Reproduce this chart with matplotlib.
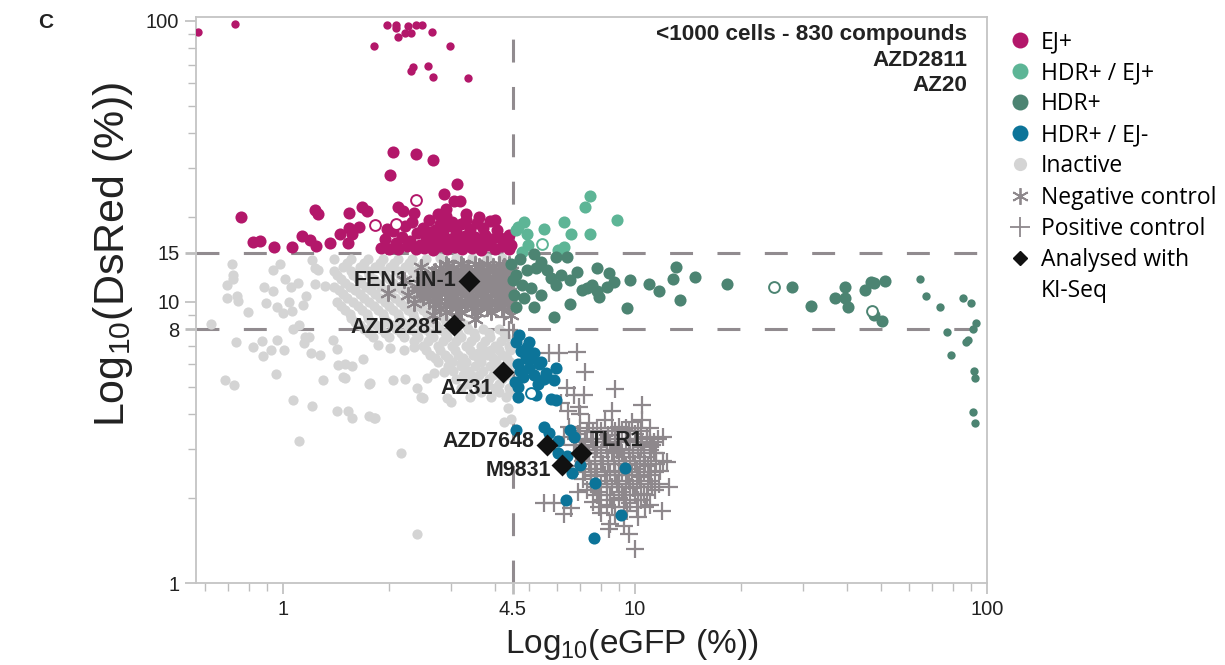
import numpy as np
import matplotlib.pyplot as plt
from matplotlib.lines import Line2D

plt.rcParams['font.family'] = ['Liberation Sans', 'DejaVu Sans']
plt.rcParams['mathtext.default'] = 'regular'

# ---- data: (eGFP %, DsRed %) ----
ej_plus_small = [(0.575, 91.4), (0.73, 97.5), (1.97, 97), (2.09, 97), (2.10, 94.4), (2.26, 96),
                 (2.38, 97), (2.48, 97), (2.12, 87.7), (2.22, 90.6), (2.31, 90.6), (2.65, 91.4),
                 (1.81, 81.4), (2.98, 81.4), (2.31, 66.3), (2.34, 68.5), (2.58, 69.1), (2.66, 63.1),
                 (3.36, 62.6)]
ej_plus = [(2.06, 34.1), (2.38, 33.5), (2.66, 32.1), (2.01, 28.4), (3.12, 26.4), (2.86, 24.3),
           (3.06, 22.8), (3.18, 22.8), (0.76, 20.1), (1.23, 21.3), (1.26, 20.5), (1.54, 20.8),
           (1.68, 21.8), (1.73, 21.0), (2.12, 21.8), (2.19, 21.1), (2.90, 21.5),
           (0.82, 16.4), (0.86, 16.5), (0.94, 15.7), (1.06, 15.7), (1.13, 17.2), (1.19, 16.6),
           (1.24, 15.8), (1.36, 16.2), (1.45, 17.5), (1.54, 18.4), (1.57, 17.5), (1.64, 18.5),
           (1.53, 16.2), (4.40, 17.3), (4.45, 16.0),
           (1.90, 15.6), (1.95, 16.8), (2.00, 15.4), (2.05, 17.9), (2.10, 16.2), (2.12, 15.5),
           (2.18, 17.0), (2.22, 18.6), (2.25, 15.8), (2.30, 16.5), (2.33, 19.2), (2.38, 15.4),
           (2.40, 17.6), (2.45, 16.0), (2.50, 18.3), (2.52, 15.6), (2.55, 17.1), (2.60, 19.5),
           (2.62, 16.4), (2.66, 15.3), (2.70, 18.0), (2.72, 16.9), (2.78, 15.8), (2.80, 19.0),
           (2.85, 17.4), (2.88, 16.1), (2.92, 15.5), (2.95, 18.6), (3.00, 16.8), (3.03, 19.3),
           (3.08, 15.7), (3.10, 17.7), (3.15, 16.3), (3.20, 18.9), (3.22, 15.4), (3.28, 17.2),
           (3.32, 19.6), (3.35, 16.0), (3.40, 18.2), (3.45, 15.6), (3.50, 17.0), (3.55, 19.1),
           (3.60, 16.5), (3.65, 15.3), (3.70, 18.4), (3.75, 17.3), (3.82, 15.9), (3.88, 19.4),
           (3.92, 16.7), (4.00, 15.5), (4.05, 18.0), (4.10, 17.0), (4.20, 15.8), (4.30, 16.6),
           (4.40, 15.4), (2.60, 17.8), (2.90, 20.2), (3.30, 20.5), (3.60, 20.0), (2.75, 20.5),
           (4.00, 19.6), (1.98, 18.2), (2.35, 20.8)]
ej_plus_open = [(2.38, 23.1), (1.82, 18.8), (2.09, 19.0)]

hdr_ej_plus = [(7.44, 23.9), (7.2, 21.8), (8.89, 19.5), (6.27, 19.3), (5.53, 18.2), (6.56, 17.4),
               (7.44, 17.4), (4.66, 18.5), (4.85, 19.2), (4.95, 17.5), (6.27, 15.7), (4.98, 15.9),
               (4.76, 15.1), (6.06, 15.3), (4.6, 18.0)]
hdr_ej_plus_open = [(5.46, 16.1)]

hdr_plus = [(10.96, 11.6), (11.7, 10.9), (12.8, 12.1), (13.1, 13.3), (13.4, 10.2), (14.8, 12.3),
            (18.2, 11.6), (27.9, 11.3), (31.6, 9.68), (37.0, 10.3), (39.5, 11.3), (39.5, 10.3),
            (40.3, 9.6), (45.1, 11.0), (46.7, 11.8), (47.9, 11.7), (51.2, 11.9), (47.9, 9.0),
            (50.4, 8.55),
            (5.18, 14.8), (5.98, 14.5), (6.39, 14.5), (4.45, 13.6), (4.6, 12.5), (4.76, 11.5),
            (4.54, 10.6), (4.92, 13.0), (5.25, 13.2), (5.61, 13.0), (5.79, 12.2), (6.18, 12.5),
            (6.52, 12.0), (6.83, 12.8), (5.98, 11.5), (7.06, 11.0), (7.53, 11.5), (7.78, 10.9),
            (8.32, 11.3), (8.71, 11.8), (9.68, 12.0), (4.85, 10.3), (4.6, 9.6), (5.18, 9.6),
            (5.88, 8.84), (6.52, 9.84), (9.49, 9.52), (7.89, 10.4), (7.29, 11.2), (8.43, 12.7),
            (7.78, 13.2), (5.42, 13.9), (5.05, 11.2), (5.42, 10.6), (4.5, 12.0), (4.7, 14.2)]
hdr_plus_small = [(64.4, 12.1), (66.9, 10.5), (73.5, 9.6), (85.4, 10.3), (90.0, 9.9), (93.0, 8.41),
                  (91.2, 8.0), (76.9, 7.8), (88.3, 7.32), (87.0, 7.2), (78.9, 6.47), (91.8, 5.67),
                  (92.4, 5.35), (91.2, 4.05), (92.4, 3.7)]
hdr_plus_open = [(24.9, 11.3), (47.2, 9.29)]

hdr_ej_minus = [(4.69, 7.62), (5.01, 7.2), (5.18, 6.58), (5.42, 6.11), (5.98, 5.81), (5.88, 5.27),
                (4.66, 4.97), (5.25, 4.65), (4.66, 4.58), (5.79, 4.5), (5.98, 4.47), (4.6, 3.49),
                (5.5, 3.58), (5.71, 3.43), (6.52, 3.49), (6.69, 3.3), (6.03, 3.21), (6.06, 2.89),
                (6.39, 2.84), (6.96, 2.62), (6.61, 2.47), (9.36, 2.57), (7.69, 2.26), (6.35, 1.98),
                (9.12, 1.75), (7.64, 1.45),
                (4.6, 7.2), (4.75, 6.7), (4.9, 6.3), (4.65, 6.0), (5.0, 5.8), (5.15, 5.5), (4.8, 5.4),
                (4.55, 5.2), (5.3, 5.1), (5.6, 5.6), (4.95, 6.9), (5.35, 6.0), (4.7, 5.7), (5.1, 6.3),
                (5.5, 5.3)]
hdr_ej_minus_open = [(5.05, 4.73)]

inactive = [(0.715, 13.7), (0.72, 12.5), (0.72, 12.1), (0.692, 11.5), (0.692, 10.3), (0.739, 10.5),
            (0.743, 10.1), (0.794, 9.21), (0.623, 8.35), (0.734, 7.2), (0.821, 6.9), (0.877, 6.42),
            (0.871, 7.26), (0.924, 6.74), (0.961, 7.3), (1.007, 6.74), (0.955, 5.53), (0.683, 5.27),
            (0.724, 5.05), (0.882, 11.3), (0.936, 10.9), (0.894, 9.91), (0.961, 9.6), (0.936, 13.0),
            (0.98, 13.7), (1.013, 12.1), (1.04, 10.0), (1.0, 9.14), (1.06, 9.29), (1.054, 11.3),
            (1.1, 11.7), (1.16, 10.5), (1.14, 9.75), (1.07, 8.0), (1.11, 8.28), (1.155, 7.5),
            (1.186, 7.5), (1.148, 7.14), (1.2, 6.58), (1.275, 6.47), (1.3, 5.27), (1.07, 4.47),
            (1.21, 4.25), (1.42, 4.08), (1.53, 4.1), (1.57, 3.88), (1.76, 3.92), (1.82, 3.85),
            (1.11, 3.21), (1.5, 5.35), (1.76, 5.1), (1.43, 5.96), (1.5, 6.0), (1.57, 5.92),
            (1.42, 6.79), (1.69, 6.26), (1.39, 7.3), (1.23, 11.6), (1.23, 13.2), (1.32, 11.4),
            (2.4, 1.5), (2.17, 2.89), (1.21, 14.1), (1.26, 13.0),
            (1.86, 7.02), (2.02, 6.85), (2.2, 6.74), (2.35, 6.9), (2.06, 5.27), (2.41, 4.93),
            (2.5, 4.54), (3.0, 4.39), (1.81, 3.88), (4.37, 4.18), (4.45, 3.82), (4.25, 3.73),
            (2.86, 5.62), (2.68, 5.58), (3.2, 6.06), (3.42, 5.49), (3.83, 5.05), (3.58, 6.58),
            (3.9, 6.74), (2.93, 4.57), (2.46, 4.58), (1.77, 5.13), (1.48, 5.4), (2.22, 5.33),
            (2.56, 5.36),
            # dense core
            (1.40, 14.2), (1.56, 14.2), (1.74, 14.2), (1.92, 14.2), (2.12, 14.2), (2.32, 14.2), (2.55, 14.2),
            (2.8, 14.3), (3.1, 14.3), (3.45, 14.3), (3.8, 14.3), (4.2, 14.3),
            (1.52, 13.75), (1.7, 13.75), (1.88, 13.75), (2.07, 13.75), (2.28, 13.75), (2.5, 13.75),
            (1.48, 13.3), (1.65, 13.3), (1.83, 13.3), (2.02, 13.3), (2.22, 13.3), (2.44, 13.3),
            (1.4, 12.9), (1.56, 12.9), (1.74, 12.9), (1.92, 12.9), (2.12, 12.9), (2.33, 12.9), (2.56, 12.9),
            (1.42, 12.5), (1.58, 12.5), (1.76, 12.5), (1.95, 12.5), (2.15, 12.5), (2.37, 12.5), (2.6, 12.5),
            (1.46, 12.1), (1.63, 12.1), (1.81, 12.1), (2.0, 12.1), (2.2, 12.1), (2.42, 12.1),
            (1.50, 11.7), (1.67, 11.7), (1.85, 11.7), (2.05, 11.7), (2.26, 11.7), (2.48, 11.7),
            (1.4, 11.35), (1.55, 11.35), (1.72, 11.35), (1.9, 11.35), (2.1, 11.35), (2.32, 11.35), (2.55, 11.35),
            (1.44, 11.0), (1.60, 11.0), (1.78, 11.0), (1.97, 11.0), (2.18, 11.0), (2.40, 11.0), (2.62, 11.0),
            (1.48, 10.65), (1.65, 10.65), (1.83, 10.65), (2.02, 10.65), (2.23, 10.65), (2.46, 10.65),
            (1.52, 10.3), (1.70, 10.3), (1.88, 10.3), (2.08, 10.3), (2.29, 10.3), (2.52, 10.3),
            (1.42, 10.0), (1.58, 10.0), (1.76, 10.0), (1.95, 10.0), (2.15, 10.0), (2.37, 10.0), (2.6, 10.0),
            (1.46, 9.7), (1.63, 9.7), (1.81, 9.7), (2.0, 9.7), (2.21, 9.7), (2.43, 9.7), (2.66, 9.7),
            (1.5, 9.4), (1.68, 9.4), (1.86, 9.4), (2.06, 9.4), (2.27, 9.4), (2.5, 9.4),
            (1.55, 9.1), (1.73, 9.1), (1.92, 9.1), (2.12, 9.1), (2.34, 9.1), (2.57, 9.1), (2.82, 9.1),
            (1.56, 8.8), (1.74, 8.8), (1.94, 8.8), (2.14, 8.8), (2.36, 8.8), (2.6, 8.8), (2.86, 8.8),
            (1.6, 8.5), (1.78, 8.5), (1.98, 8.5), (2.18, 8.5), (2.4, 8.5), (2.63, 8.5), (2.9, 8.5), (3.2, 8.5),
            (1.65, 8.25), (1.84, 8.25), (2.04, 8.25), (2.25, 8.25), (2.47, 8.25), (2.72, 8.25), (3.0, 8.25),
            (3.3, 8.25),
            (1.7, 8.0), (1.9, 8.0), (2.1, 8.0), (2.3, 8.0), (2.53, 8.0), (2.77, 8.0), (3.05, 8.0),
            (3.35, 8.0), (3.7, 8.0), (4.1, 8.0),
            (1.75, 7.75), (1.95, 7.75), (2.16, 7.75), (2.38, 7.75), (2.62, 7.75), (2.88, 7.75), (3.15, 7.75),
            (3.48, 7.75), (3.85, 7.75), (4.25, 7.75),
            (1.8, 7.5), (2.0, 7.5), (2.2, 7.5), (2.42, 7.5), (2.66, 7.5), (2.92, 7.5), (3.2, 7.5),
            (3.52, 7.5), (3.88, 7.5), (4.3, 7.5),
            (2.35, 7.25), (2.58, 7.25), (2.84, 7.25), (3.1, 7.25), (3.42, 7.25), (3.76, 7.25), (4.15, 7.25),
            (2.5, 7.0), (2.75, 7.0), (3.02, 7.0), (3.32, 7.0), (3.65, 7.0), (4.0, 7.0), (4.4, 7.0),
            (2.55, 6.75), (2.8, 6.75), (3.08, 6.75), (3.4, 6.75), (3.72, 6.75), (4.1, 6.75), (4.42, 6.75),
            (2.62, 6.5), (2.88, 6.5), (3.15, 6.5), (3.47, 6.5), (3.8, 6.5), (4.18, 6.5),
            (2.7, 6.3), (2.95, 6.3), (3.25, 6.3), (3.58, 6.3), (3.95, 6.3), (4.32, 6.3),
            (2.75, 6.1), (3.02, 6.1), (3.32, 6.1), (3.65, 6.1), (4.02, 6.1), (4.42, 6.1),
            (2.95, 5.9), (3.2, 5.9), (3.52, 5.9), (3.88, 5.9), (4.25, 5.9),
            (3.05, 5.7), (3.35, 5.7), (3.7, 5.7), (4.05, 5.7), (4.4, 5.7),
            (3.25, 5.5), (3.6, 5.5), (3.95, 5.5), (4.32, 5.5),
            (3.1, 5.3), (3.5, 5.3), (3.85, 5.3), (4.2, 5.3),
            (3.35, 5.1), (3.75, 5.1), (4.12, 5.1),
            (3.2, 4.95), (3.6, 4.95), (4.0, 4.95), (4.38, 4.95),
            (3.65, 4.8), (4.1, 4.8), (4.42, 4.8),
            (3.4, 4.6), (3.9, 4.6), (4.3, 4.6)]

negative_ctrl = [(2.9, 13.6), (3.2, 13.6), (3.5, 13.6), (3.8, 13.6), (4.1, 13.6), (4.4, 13.6),
                 (2.95, 13.4), (3.25, 13.4), (3.6, 13.4), (3.95, 13.4), (4.25, 13.4),
                 (2.8, 13.25), (3.05, 13.25), (3.35, 13.25), (3.65, 13.25), (3.95, 13.25), (4.3, 13.25),
                 (2.7, 12.9), (2.95, 12.9), (3.25, 12.9), (3.55, 12.9), (3.85, 12.9), (4.15, 12.9), (4.45, 12.9),
                 (2.8, 12.7), (3.1, 12.7), (3.4, 12.7), (3.7, 12.7), (4.0, 12.7), (4.3, 12.7),
                 (2.65, 12.55), (2.9, 12.55), (3.2, 12.55), (3.5, 12.55), (3.8, 12.55), (4.1, 12.55), (4.4, 12.55),
                 (2.55, 12.2), (2.8, 12.2), (3.1, 12.2), (3.4, 12.2), (3.7, 12.2), (4.0, 12.2), (4.3, 12.2),
                 (2.65, 12.05), (2.95, 12.05), (3.25, 12.05), (3.55, 12.05), (3.85, 12.05), (4.15, 12.05),
                 (2.5, 11.9), (2.75, 11.9), (3.05, 11.9), (3.35, 11.9), (3.65, 11.9), (3.95, 11.9), (4.3, 11.9),
                 (2.45, 11.6), (2.7, 11.6), (2.98, 11.6), (3.28, 11.6), (3.6, 11.6), (3.92, 11.6), (4.25, 11.6),
                 (2.55, 11.45), (2.8, 11.45), (3.1, 11.45), (3.4, 11.45), (3.7, 11.45), (4.0, 11.45), (4.3, 11.45),
                 (2.4, 11.3), (2.6, 11.3), (2.85, 11.3), (3.15, 11.3), (3.45, 11.3), (3.75, 11.3), (4.05, 11.3),
                 (4.35, 11.3),
                 (2.4, 11.0), (2.65, 11.0), (2.92, 11.0), (3.22, 11.0), (3.55, 11.0), (3.9, 11.0), (4.2, 11.0),
                 (2.55, 10.85), (2.8, 10.85), (3.1, 10.85), (3.4, 10.85), (3.75, 10.85), (4.05, 10.85), (4.4, 10.85),
                 (2.45, 10.7), (2.7, 10.7), (3.0, 10.7), (3.3, 10.7), (3.65, 10.7), (4.0, 10.7), (4.3, 10.7),
                 (2.5, 10.4), (2.78, 10.4), (3.08, 10.4), (3.4, 10.4), (3.75, 10.4), (4.1, 10.4), (4.4, 10.4),
                 (2.7, 10.25), (3.0, 10.25), (3.35, 10.25), (3.7, 10.25), (4.05, 10.25), (4.4, 10.25),
                 (2.6, 10.1), (2.9, 10.1), (3.2, 10.1), (3.55, 10.1), (3.9, 10.1), (4.25, 10.1),
                 (2.7, 9.8), (3.0, 9.8), (3.3, 9.8), (3.65, 9.8), (4.0, 9.8), (4.35, 9.8),
                 (2.9, 9.65), (3.2, 9.65), (3.5, 9.65), (3.85, 9.65), (4.2, 9.65),
                 (2.8, 9.5), (3.1, 9.5), (3.45, 9.5), (3.8, 9.5), (4.2, 9.5),
                 (2.9, 9.2), (3.2, 9.2), (3.55, 9.2), (3.9, 9.2),
                 (1.99, 10.8), (2.26, 10.6), (2.67, 9.0), (3.13, 8.9), (2.46, 13.3), (2.2, 12.0),
                 (2.35, 9.9), (3.5, 8.7), (4.45, 9.0)]

positive_ctrl = [(7.4, 3.7), (8.2, 3.8), (9.0, 3.6), (9.8, 3.75),
                 (7.0, 3.55), (7.8, 3.55), (8.6, 3.55), (9.4, 3.55), (10.2, 3.55), (11.0, 3.55),
                 (7.3, 3.47), (8.0, 3.47), (8.8, 3.47), (9.6, 3.47), (10.4, 3.47),
                 (6.9, 3.4), (7.6, 3.45), (8.4, 3.35), (9.2, 3.5), (10.0, 3.4), (10.8, 3.3),
                 (6.8, 3.25), (7.5, 3.25), (8.1, 3.25), (8.8, 3.25), (9.4, 3.25), (10.1, 3.25), (10.8, 3.25),
                 (11.6, 3.25),
                 (7.0, 3.18), (7.6, 3.18), (8.3, 3.18), (9.0, 3.18), (9.7, 3.18), (10.5, 3.18), (11.3, 3.18),
                 (6.7, 3.1), (7.2, 3.2), (7.8, 3.05), (8.5, 3.15), (9.1, 3.0), (9.7, 3.2), (10.4, 3.05), (11.2, 3.1),
                 (7.1, 2.98), (7.7, 2.98), (8.3, 2.98), (8.9, 2.98), (9.6, 2.98), (10.2, 2.98), (11.0, 2.98),
                 (7.3, 2.91), (8.0, 2.91), (8.6, 2.91), (9.2, 2.91), (9.9, 2.91), (10.6, 2.91), (11.3, 2.91),
                 (6.8, 2.85), (7.4, 2.9), (8.0, 2.8), (8.7, 2.95), (9.3, 2.8), (9.9, 2.9), (10.6, 2.8), (11.5, 2.9),
                 (7.1, 2.72), (7.7, 2.72), (8.4, 2.72), (9.0, 2.72), (9.7, 2.72), (10.3, 2.72), (11.1, 2.72),
                 (12.0, 2.72),
                 (7.4, 2.66), (8.0, 2.66), (8.7, 2.66), (9.3, 2.66), (10.0, 2.66), (10.7, 2.66), (11.5, 2.66),
                 (6.9, 2.6), (7.5, 2.55), (8.1, 2.65), (8.8, 2.5), (9.4, 2.62), (10.1, 2.55), (10.9, 2.6), (11.8, 2.5),
                 (7.2, 2.48), (7.8, 2.48), (8.5, 2.48), (9.2, 2.48), (9.8, 2.48), (10.6, 2.48), (11.4, 2.48),
                 (7.5, 2.42), (8.2, 2.42), (8.8, 2.42), (9.5, 2.42), (10.2, 2.42), (11.0, 2.42),
                 (7.1, 2.35), (7.7, 2.4), (8.3, 2.3), (9.0, 2.42), (9.6, 2.3), (10.3, 2.38), (11.1, 2.3),
                 (7.5, 2.25), (8.0, 2.25), (8.9, 2.25), (9.4, 2.25), (10.1, 2.25), (10.9, 2.25), (11.7, 2.25),
                 (7.7, 2.2), (8.3, 2.2), (9.0, 2.2), (9.7, 2.2), (10.4, 2.2), (11.2, 2.2),
                 (7.3, 2.15), (7.9, 2.1), (8.6, 2.2), (9.2, 2.1), (9.9, 2.18), (10.6, 2.08), (11.4, 2.15),
                 (7.8, 2.05), (8.5, 2.05), (9.3, 2.05), (10.0, 2.05), (10.8, 2.05),
                 (8.0, 1.98), (8.7, 1.98), (9.4, 1.98), (10.2, 1.98),
                 (7.6, 1.95), (8.3, 1.9), (9.0, 2.0), (9.7, 1.92), (10.4, 1.97), (11.0, 1.9),
                 (7.9, 1.86), (8.6, 1.86), (9.3, 1.86), (10.1, 1.86), (10.7, 1.86),
                 (8.0, 1.78), (8.8, 1.75), (9.5, 1.8), (10.2, 1.72),
                 (6.5, 3.6), (6.3, 3.3), (12.0, 3.3), (12.3, 2.7), (12.5, 2.2), (7.0, 4.0), (8.6, 4.1),
                 (10.5, 4.3), (9.3, 1.6), (8.5, 1.62), (6.6, 1.85), (6.9, 2.1),
                 (4.25, 8.84), (4.39, 7.93), (6.1, 6.58), (6.83, 6.64), (7.2, 5.62), (8.77, 4.89),
                 (5.68, 6.58), (6.39, 4.93), (6.69, 4.65), (7.15, 4.65), (6.18, 4.36), (6.47, 4.11),
                 (6.92, 4.22), (5.53, 1.93), (5.88, 1.93), (6.27, 1.76), (8.43, 1.56), (9.61, 1.5),
                 (10.0, 1.32), (10.5, 3.79), (11.9, 1.81), (11.0, 3.14)]

analysed_names = ["FEN1-IN-1", "AZD2281", "AZ31", "AZD7648", "TLR1", "M9831"]
analysed_x = [3.38, 3.06, 4.22, 5.61, 7.01, 6.22]
analysed_y = [11.9, 8.28, 5.62, 3.09, 2.91, 2.64]

x_ticks = [1, 4.5, 10, 100]
y_ticks = [1, 8, 10, 15, 100]
egfp_cut = 4.5
dsred_cuts = [8, 15]

# ---- style ----
c_ej = '#B3176A'
c_hdr_ej = '#5DB596'
c_hdr = '#4C8472'
c_hdr_ejm = '#0C7499'
c_inact = '#D4D4D4'
c_ctrl = '#8E888C'
c_dash = '#918B8F'

fig = plt.figure(figsize=(12.25, 6.65), dpi=100)
ax = fig.add_axes([0.16, 0.1233, 0.6457, 0.8511])
ax.set_xscale('log')
ax.set_yscale('log')
ax.set_xlim(0.566, 100)
ax.set_ylim(1, 103.3)


def dots(pts, color, size, zorder, hollow=False):
    xy = np.array(pts).T
    if hollow:
        ax.scatter(xy[0], xy[1], s=size * 0.8, facecolors='white', edgecolors=color,
                   linewidths=1.4, zorder=zorder)
    else:
        ax.scatter(xy[0], xy[1], s=size, color=color, linewidths=0, zorder=zorder)


big, small = 76, 36
dots(inactive, c_inact, 54, 2)
neg = np.array(negative_ctrl).T
ax.scatter(neg[0], neg[1], s=120, marker=(6, 2, 0), color=c_ctrl, linewidths=1.5, zorder=3)
pos = np.array(positive_ctrl).T
ax.scatter(pos[0], pos[1], s=150, marker='+', color=c_ctrl, linewidths=1.6, zorder=3)

dots(ej_plus, c_ej, big, 4)
dots(ej_plus_small, c_ej, small, 4)
dots(ej_plus_open, c_ej, big, 4, hollow=True)
dots(hdr_ej_plus, c_hdr_ej, big, 4)
dots(hdr_ej_plus_open, c_hdr_ej, big, 4, hollow=True)
dots(hdr_plus, c_hdr, big, 4)
dots(hdr_plus_small, c_hdr, small, 4)
dots(hdr_plus_open, c_hdr, big, 4, hollow=True)
dots(hdr_ej_minus, c_hdr_ejm, big, 4)
dots(hdr_ej_minus_open, c_hdr_ejm, big, 4, hollow=True)

# threshold lines
for yc in dsred_cuts:
    ax.plot([0.566, 100], [yc, yc], color=c_dash, lw=2.2, dashes=(7.5, 8), zorder=1)
ax.plot([egfp_cut, egfp_cut], [1, 88], color=c_dash, lw=2.2, dashes=(7.5, 8), zorder=1)

# analysed compounds
ax.scatter(analysed_x, analysed_y, s=125, marker='D', color='#111111', linewidths=0, zorder=6)
offsets = [(-13, 0, 'right', 'center'), (-12, -2, 'right', 'center'), (-10, -16, 'right', 'center'),
           (-12, 4, 'right', 'center'), (9, 12, 'left', 'center'), (-11, -6, 'right', 'center')]
for name, x, y, (dx, dy, ha, va) in zip(analysed_names, analysed_x, analysed_y, offsets):
    ax.annotate(name, (x, y), xytext=(dx, dy), textcoords='offset pixels', ha=ha, va=va,
                fontsize=15.5, fontweight='bold', color='#222222', zorder=7)

ax.text(0.975, 0.988, "<1000 cells - 830 compounds\nAZD2811\nAZ20", transform=ax.transAxes,
        ha='right', va='top', multialignment='right', fontsize=16.2, fontweight='bold',
        color='#222222', linespacing=1.3)

# axes, ticks
for sp in ax.spines.values():
    sp.set_color('#C4C4C4')
    sp.set_linewidth(1.3)
ax.set_xticks(x_ticks)
ax.set_xticklabels([str(t) for t in x_ticks])
ax.set_yticks(y_ticks)
ax.set_yticklabels([str(t) for t in y_ticks])
ax.xaxis.set_minor_formatter(plt.NullFormatter())
ax.yaxis.set_minor_formatter(plt.NullFormatter())
ax.tick_params(which='major', length=8, width=1.2, color='#BDBDBD', labelsize=14.5,
               labelcolor='#222222', pad=4)
ax.tick_params(which='minor', length=6, width=1.0, color='#BDBDBD')
for t, v in zip(ax.yaxis.get_major_ticks(), y_ticks):
    if v in dsred_cuts:
        t.tick1line.set_color(c_dash)
        t.tick1line.set_markeredgewidth(2)
for t, v in zip(ax.xaxis.get_major_ticks(), x_ticks):
    if v == egfp_cut:
        t.tick1line.set_color(c_dash)
        t.tick1line.set_markeredgewidth(2)

fig.text(632 / 1225, 1 - 645 / 665, "Log$_{10}$(eGFP (%))", ha='center', va='center',
         fontsize=24, color='#222222')
fig.text(113 / 1225, 1 - 255 / 665, "Log$_{10}$(DsRed (%))", ha='center', va='center',
         rotation=90, fontsize=31, color='#222222')
fig.text(38 / 1225, 1 - 22 / 665, "C", ha='left', va='center', fontsize=15, fontweight='bold',
         color='#222222')

# legend
handles = [
    Line2D([], [], ls='none', marker='o', ms=11.5, mfc=c_ej, mec='none'),
    Line2D([], [], ls='none', marker='o', ms=11.5, mfc=c_hdr_ej, mec='none'),
    Line2D([], [], ls='none', marker='o', ms=11.5, mfc=c_hdr, mec='none'),
    Line2D([], [], ls='none', marker='o', ms=11.5, mfc=c_hdr_ejm, mec='none'),
    Line2D([], [], ls='none', marker='o', ms=9.5, mfc=c_inact, mec='none'),
    Line2D([], [], ls='none', marker=(6, 2, 0), ms=12, color=c_ctrl, mew=1.3),
    Line2D([], [], ls='none', marker='+', ms=14, color=c_ctrl, mew=1.3),
    Line2D([], [], ls='none', marker='D', ms=7, color='#111111'),
    Line2D([], [], ls='none', marker=None),
]
labels = ["EJ+", "HDR+ / EJ+", "HDR+", "HDR+ / EJ-", "Inactive", "Negative control",
          "Positive control", "Analysed with", "KI-Seq"]
fig.legend(handles, labels, loc='upper left', bbox_to_anchor=(1009 / 1225, 1 - 30 / 665),
           frameon=False, prop={'family': 'Open Sans', 'size': 16.5}, handlelength=1.0,
           handletextpad=0.4, labelspacing=0.31, borderaxespad=0, borderpad=0)

fig.savefig('out.png', dpi=100)
